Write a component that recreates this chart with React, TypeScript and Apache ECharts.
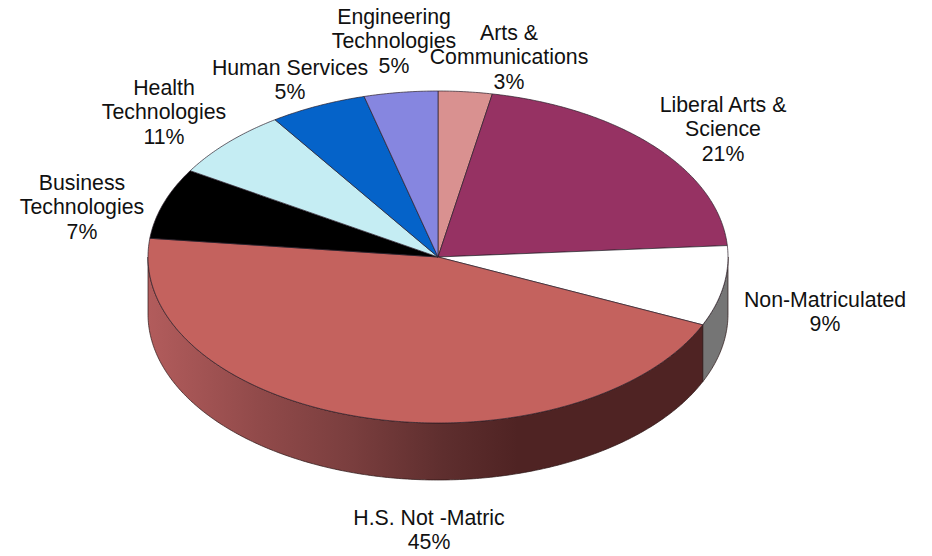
import React, { useEffect, useRef } from "react";
import * as echarts from "echarts";

const categories = ["Arts &\nCommunications", "Liberal Arts &\nScience", "Non-Matriculated", "H.S. Not -Matric", "Business\nTechnologies", "Health\nTechnologies", "Human Services", "Engineering\nTechnologies"];
const percentLabels = ["3%", "21%", "9%", "45%", "7%", "11%", "5%", "5%"];
// Slice sizes as drawn in the picture (they differ from the printed percentages)
const sliceShares = [3.0, 20.9, 7.8, 45.1, 6.9, 6.8, 5.4, 4.1];
const topColors = ["#d99190", "#963263", "#ffffff", "#c4625e", "#000000", "#c5edf3", "#0563c9", "#8686e0"];
const labelCenters = [[509, 33], [723, 105], [825, 300], [429, 518], [82, 183], [164, 88], [290, 68], [394, 17]];

const CX = 438, CY = 257, RX = 290, RY = 166, DEPTH = 57;
const LINE_H = 24.4;
const total = sliceShares.reduce((a, b) => a + b, 0);

const pt = (t: number, dy = 0) => [CX + RX * Math.sin(t), CY - RY * Math.cos(t) + dy];
const arc = (a: number, b: number, dy = 0) => {
  const n = Math.max(2, Math.ceil(Math.abs(b - a) / 0.01));
  const out: number[][] = [];
  for (let i = 0; i <= n; i++) out.push(pt(a + ((b - a) * i) / n, dy));
  return out;
};

const sideFill = (i: number) => {
  if (i === 3) {
    return new echarts.graphic.LinearGradient(CX - RX, 0, CX + 80, 0, [
      { offset: 0, color: "#b25c5c" },
      { offset: 0.3, color: "#914a4a" },
      { offset: 0.55, color: "#7a3e3e" },
      { offset: 0.8, color: "#5e2e2e" },
      { offset: 1, color: "#4f2323" },
    ], true);
  }
  return "#757575";
};

function renderSlice(params: any, api: any) {
  const i = params.dataIndex;
  const before = sliceShares.slice(0, i).reduce((a, b) => a + b, 0);
  const a = (before / total) * Math.PI * 2;
  const b = ((before + api.value(0)) / total) * Math.PI * 2;
  const children: any[] = [];
  const sa = Math.max(a, Math.PI / 2), sb = Math.min(b, (Math.PI * 3) / 2);
  if (sb > sa) {
    const front = arc(sa, sb);
    const back = arc(sb, sa, DEPTH);
    children.push({
      type: "polygon",
      shape: { points: [...front, ...back] },
      style: { fill: sideFill(i), stroke: "#2a1414", lineWidth: 0.7 },
    });
  }
  children.push({
    type: "polygon",
    shape: { points: [[CX, CY], ...arc(a, b)] },
    style: { fill: topColors[i], stroke: "#2b1f2b", lineWidth: 0.7, lineJoin: "round" },
  });
  return { type: "group", children };
}

export default function App() {
  const ref = useRef<HTMLDivElement>(null);
  useEffect(() => {
    const chart = echarts.init(ref.current!, null, { renderer: "svg" });
    const graphicTexts: any[] = [];
    categories.forEach((name, i) => {
      const lines = [...name.split("\n"), percentLabels[i]];
      lines.forEach((line, j) => {
        graphicTexts.push({
          type: "text",
          x: labelCenters[i][0],
          y: labelCenters[i][1] + j * LINE_H,
          z: 10,
          style: {
            text: line,
            fill: "#111111",
            font: '21.3px "Liberation Sans", Arial, sans-serif',
            align: "center",
            verticalAlign: "middle",
          },
        });
      });
    });
    chart.setOption({
      animation: false,
      backgroundColor: "#ffffff",
      graphic: { elements: graphicTexts },
      series: [
        {
          type: "custom",
          coordinateSystem: "none",
          renderItem: renderSlice,
          data: sliceShares.map((v, i) => ({ name: categories[i].replace("\n", " "), value: [v] })),
          silent: true,
        },
      ],
    });
    return () => chart.dispose();
  }, []);
  return <div ref={ref} style={{ position: "fixed", left: 0, top: 0, width: 932, height: 556 }} />;
}
